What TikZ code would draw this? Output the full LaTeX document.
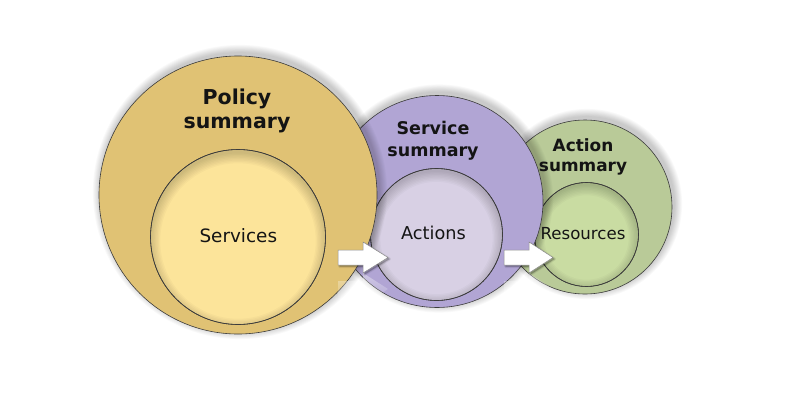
\documentclass[tikz,border=0pt]{standalone}
\usepackage{fontspec}
\setmainfont{DejaVu Sans}
\usetikzlibrary{fadings}
\definecolor{goldc}{HTML}{E0C274}
\definecolor{servc}{HTML}{FCE49A}
\definecolor{purpc}{HTML}{B1A5D4}
\definecolor{actc}{HTML}{D8D0E4}
\definecolor{greenc}{HTML}{B9CA98}
\definecolor{resc}{HTML}{C9DCA2}
\definecolor{edgec}{HTML}{3C3C3C}
\definecolor{txtc}{HTML}{141414}
\newcommand{\softshadow}[2]{%
  \foreach \k in {1,...,9}
    \fill[black, opacity=0.022] ([xshift=2pt,yshift=3pt]#1) circle ({#2+\k*0.9pt});}
\newcommand{\innershade}[3]{%
  \begin{scope}
    \clip (#1) circle (#2);
    \foreach \k in {0,...,7}
      \fill[black, opacity=0.024, even odd rule] (#1) circle ({#2+20pt}) ([yshift=-#3]#1) circle ({#2-\k*1.4pt});
  \end{scope}
  \draw[edgec, line width=0.6pt] (#1) circle (#2);}
\begin{document}
\begin{tikzpicture}[x=1pt,y=-1pt,
  outer/.style={circle, draw=edgec, line width=0.6pt, inner sep=0pt},
  innerc/.style={circle, draw=edgec, line width=0.6pt, inner sep=0pt},
  head/.style={text=txtc, anchor=base, inner sep=0pt},
  lbl/.style={text=txtc, anchor=base, inner sep=0pt},
  blockarrow/.style={fill=white, draw=black!45, line width=0.5pt},
  reflect/.style={fill=white, opacity=0.4, path fading=south}]
\useasboundingbox[fill=white] (0,0) rectangle (800,400);

% Action summary
\coordinate (c3) at (585,207);
\softshadow{c3}{87pt}
\node[outer, fill=greenc, minimum size=174pt] (actsum) at (c3) {};
\node[innerc, fill=resc, minimum size=104pt] (res) at (586.5,234.5) {};
\innershade{res.center}{52pt}{3pt}

% Service summary
\coordinate (c2) at (437,201.5);
\softshadow{c2}{106pt}
\node[outer, fill=purpc, minimum size=212pt] (servsum) at (c2) {};
\node[innerc, fill=actc, minimum size=132pt] (act) at (436.5,234.5) {};
\innershade{act.center}{66pt}{3.5pt}

% Policy summary
\coordinate (c1) at (238,195);
\softshadow{c1}{139pt}
\node[outer, fill=goldc, minimum size=278pt] (polsum) at (c1) {};
\node[innerc, fill=servc, minimum size=175pt] (serv) at (238,237) {};
\innershade{serv.center}{87.5pt}{4pt}

% headings
\node[head, font=\fontsize{20.5}{24}\selectfont\bfseries] (pol1) at (237,104) {Policy};
\node[head, font=\fontsize{20.5}{24}\selectfont\bfseries] (pol2) at (237,128) {summary};
\node[head, font=\fontsize{17.5}{21}\selectfont\bfseries] (ser1) at (433,134.5) {Service};
\node[head, font=\fontsize{17.5}{21}\selectfont\bfseries] (ser2) at (433,156) {summary};
\node[head, font=\fontsize{16.9}{20}\selectfont\bfseries] (ac1) at (583,151) {Action};
\node[head, font=\fontsize{16.9}{20}\selectfont\bfseries] (ac2) at (583,171.5) {summary};

% inner labels
\node[lbl, font=\fontsize{18.4}{22}\selectfont] (servl) at (238.3,242.7) {Services};
\node[lbl, font=\fontsize{17.7}{21}\selectfont] (actl) at (433.5,239.3) {Actions};
\node[lbl, font=\fontsize{16.6}{20}\selectfont] (resl) at (583,239) {Resources};

% reflections
\fill[reflect] (338,281) -- (363,281) -- (363,273) -- (388,289) -- (363,305) -- (363,297) -- (338,297) -- cycle;
\fill[reflect] (504,281) -- (529,281) -- (529,273) -- (553,289) -- (529,305) -- (529,297) -- (504,297) -- cycle;

% block arrow shadows
\foreach \k in {1,...,3}
  \fill[black, opacity=0.08, line join=round, draw=black, draw opacity=0.05, line width=\k pt]
    (339.5,251.5) -- (364.5,251.5) -- (364.5,243.5) -- (389.5,259) -- (364.5,274.5) -- (364.5,266.5) -- (339.5,266.5) -- cycle
    (505.5,251.5) -- (530.5,251.5) -- (530.5,243.5) -- (554.5,259) -- (530.5,274.5) -- (530.5,266.5) -- (505.5,266.5) -- cycle;
% block arrows
\draw[blockarrow] (338,250) -- (363,250) -- (363,242) -- (388,257.5) -- (363,273) -- (363,265) -- (338,265) -- cycle;
\draw[blockarrow] (504,250) -- (529,250) -- (529,242) -- (553,257.5) -- (529,273) -- (529,265) -- (504,265) -- cycle;
\end{tikzpicture}
\end{document}
